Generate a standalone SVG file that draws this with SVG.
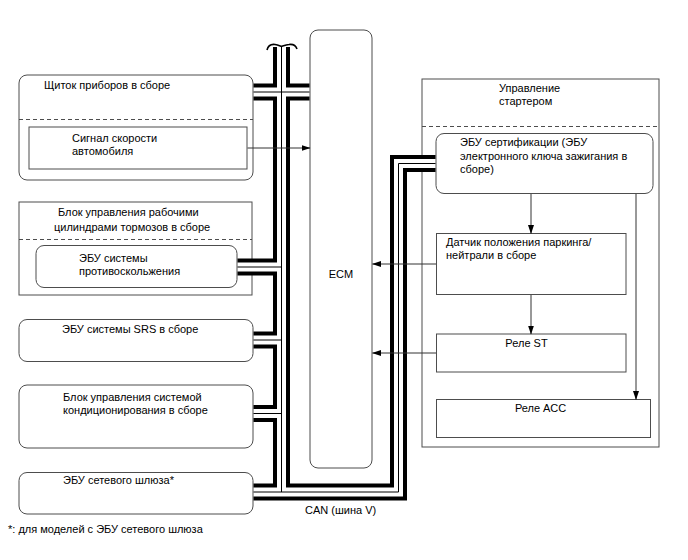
<svg xmlns="http://www.w3.org/2000/svg" width="688" height="560" viewBox="0 0 688 560">
<style>
.box{fill:#fff;stroke:#4d4d4d;stroke-width:1}
.dash{fill:none;stroke:#4d4d4d;stroke-width:1;stroke-dasharray:4 3}
.t{font-family:"Liberation Sans",Arial,sans-serif;font-size:11px;fill:#000}
.m{text-anchor:middle}
.busb{fill:none;stroke:#000;stroke-width:17;stroke-linejoin:miter}
.busw{fill:none;stroke:#fff;stroke-width:9;stroke-linejoin:miter}
.busc{fill:none;stroke:#000;stroke-width:1}
.arr{fill:none;stroke:#333;stroke-width:1;marker-end:url(#ah)}
</style>
<defs>
<marker id="ah" markerWidth="9" markerHeight="7" refX="8.5" refY="3" orient="auto" markerUnits="userSpaceOnUse">
<path d="M0,0 L9,3 L0,6 z" fill="#000"/>
</marker>
</defs>
<rect width="688" height="560" fill="#fff"/>

<g id="ecm">
<rect class="box" x="310" y="30" width="62" height="438" rx="8"/>
<text class="t m" x="341" y="278">ECM</text>
</g>

<g id="combination-meter">
<rect class="box" x="19" y="75" width="234" height="105" rx="8"/>
<text class="t" x="44" y="89">Щиток приборов в сборе</text>
<line class="dash" x1="19" y1="119.5" x2="253" y2="119.5"/>
<rect class="box" x="29" y="127" width="218" height="42"/>
<text class="t" x="72" y="142">Сигнал скорости</text>
<text class="t" x="72" y="155">автомобиля</text>
</g>

<g id="brake-actuator">
<rect class="box" x="19" y="202" width="233" height="93"/>
<text class="t" x="58" y="216">Блок управления рабочими</text>
<text class="t" x="54" y="231">цилиндрами тормозов в сборе</text>
<line class="dash" x1="19" y1="239.5" x2="252" y2="239.5"/>
<rect class="box" x="36" y="245.5" width="201" height="42" rx="8"/>
<text class="t" x="79" y="262">ЭБУ системы</text>
<text class="t" x="79" y="275">противоскольжения</text>
</g>

<g id="srs">
<rect class="box" x="19" y="319.5" width="234" height="42" rx="8"/>
<text class="t" x="62" y="333">ЭБУ системы SRS в сборе</text>
</g>

<g id="ac">
<rect class="box" x="19" y="385" width="234" height="63" rx="8"/>
<text class="t" x="63" y="401">Блок управления системой</text>
<text class="t" x="63" y="414">кондиционирования в сборе</text>
</g>

<g id="gateway">
<rect class="box" x="19" y="472.5" width="234" height="41.5" rx="8"/>
<text class="t" x="63" y="484">ЭБУ сетевого шлюза*</text>
</g>

<g id="starter-control">
<rect class="box" x="422" y="79" width="237" height="368"/>
<text class="t" x="499" y="92">Управление</text>
<text class="t" x="499" y="105">стартером</text>
<line class="dash" x1="422" y1="126.5" x2="659" y2="126.5"/>
</g>

<g id="certification-ecu">
<rect class="box" x="436" y="133.5" width="217" height="60" rx="8"/>
<text class="t" x="460" y="146">ЭБУ сертификации (ЭБУ</text>
<text class="t" x="460" y="160">электронного ключа зажигания в</text>
<text class="t" x="460" y="173">сборе)</text>
</g>

<g id="park-neutral">
<rect class="box" x="436.5" y="233.5" width="189.5" height="61"/>
<text class="t" x="446" y="246">Датчик положения паркинга/</text>
<text class="t" x="446" y="259">нейтрали в сборе</text>
</g>

<g id="st-relay">
<rect class="box" x="436.5" y="334" width="189.5" height="38"/>
<text class="t m" x="526.5" y="347">Реле ST</text>
</g>

<g id="acc-relay">
<rect class="box" x="436.5" y="399.5" width="214" height="38"/>
<text class="t m" x="540.5" y="412">Реле АСС</text>
</g>

<g id="connectors">
<g class="busb">
<path d="M281.5,47 V492"/>
<path d="M253.5,492 H398.5 V163.5 H435.5"/>
<path d="M253.5,92 H309.5"/>
<path d="M237.5,267 H281.5"/>
<path d="M253.5,340 H281.5"/>
<path d="M253.5,413.5 H281.5"/>
</g>
<g class="busw">
<path d="M281.5,46 V492"/>
<path d="M253.5,492 H398.5 V163.5 H435.5"/>
<path d="M253.5,92 H309.5"/>
<path d="M237.5,267 H281.5"/>
<path d="M253.5,340 H281.5"/>
<path d="M253.5,413.5 H281.5"/>
</g>
<g class="busc">
<path d="M281.5,46 V492"/>
<path d="M253.5,492 H398.5 V163.5 H435.5"/>
<path d="M253.5,92 H309.5"/>
<path d="M237.5,267 H281.5"/>
<path d="M253.5,340 H281.5"/>
<path d="M253.5,413.5 H281.5"/>
</g>
<path d="M267,50 C268,46 271,44 275,44.5 C278,45 280,46 281.5,46.5 C283,46 286,44.5 289,44.5 C293,44 296,46 297,49" fill="none" stroke="#000" stroke-width="1.6"/>
<path class="arr" d="M247.5,148 H310"/>
<path class="arr" d="M436,264 H372.5"/>
<path class="arr" d="M436,353 H372.5"/>
<path class="arr" d="M531,194 V233.5"/>
<path class="arr" d="M531,295 V334"/>
<path class="arr" d="M636,194 V399.5"/>
<text class="t" x="305" y="514">CAN (шина V)</text>
</g>

<text class="t" x="8" y="533">*: для моделей с ЭБУ сетевого шлюза</text>
</svg>
